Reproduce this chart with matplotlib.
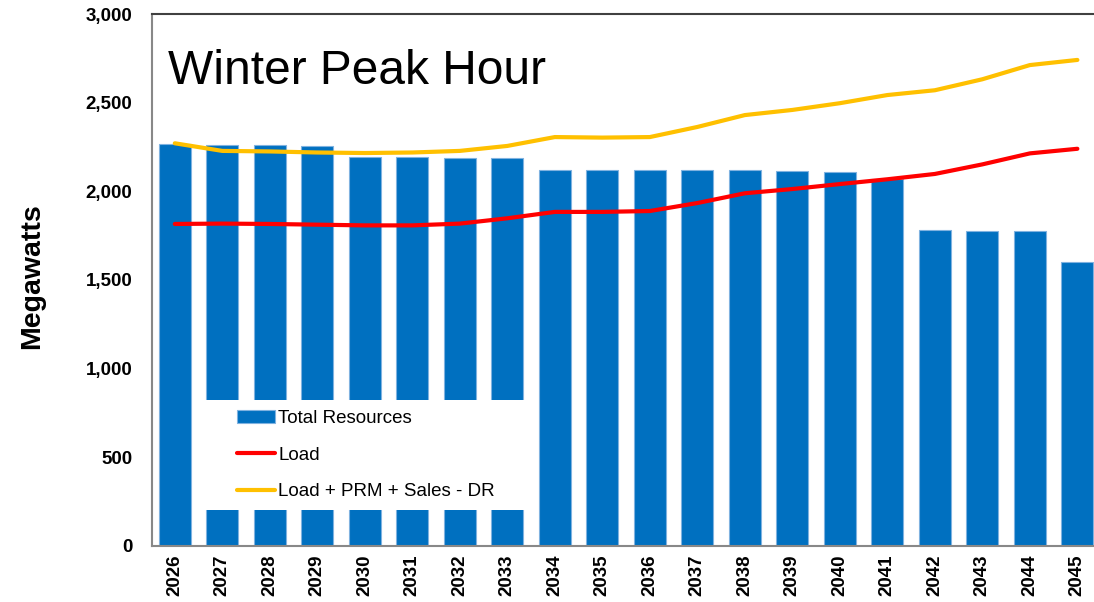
import matplotlib
matplotlib.use("Agg")
import matplotlib.pyplot as plt
from matplotlib.patches import Rectangle
import numpy as np

plt.rcParams['font.family'] = ['Liberation Sans', 'DejaVu Sans']

years = [str(y) for y in range(2026, 2046)]
total_resources = [2267, 2262, 2262, 2255, 2193, 2193, 2190, 2190, 2120, 2120, 2120, 2118,
                   2118, 2115, 2111, 2068, 1784, 1776, 1775, 1600]
load = [1816, 1818, 1816, 1812, 1808, 1808, 1818, 1848, 1884, 1884, 1889, 1934,
        1989, 2013, 2041, 2068, 2098, 2152, 2214, 2240]
load_prm = [2271, 2228, 2225, 2219, 2216, 2219, 2228, 2256, 2306, 2303, 2306, 2363,
            2430, 2459, 2497, 2543, 2570, 2632, 2712, 2741]
yticks = [0, 500, 1000, 1500, 2000, 2500, 3000]

W, H = 1094, 602
fig = plt.figure(figsize=(W/100, H/100), dpi=100)
ax_l, ax_r, ax_t, ax_b = 152, 1094, 14, 546
ax = fig.add_axes([ax_l/W, 1-ax_b/H, (ax_r-ax_l)/W, (ax_b-ax_t)/H])

def axfrac(px, py):
    return (px-ax_l)/(ax_r-ax_l), (ax_b-py)/(ax_b-ax_t)

x = np.arange(len(years))
bars = ax.bar(x, total_resources, width=0.67, color='#0070C0', edgecolor='#7FB2E0',
              linewidth=0.8, label='Total Resources', zorder=2)
l1, = ax.plot(x, load, color='#FF0000', lw=3, label='Load', zorder=3,
              solid_capstyle='round')
l2, = ax.plot(x, load_prm, color='#FFC000', lw=3, label='Load + PRM + Sales - DR',
              zorder=3, solid_capstyle='round')

ax.set_xlim(-0.48, 19.35)
ax.set_ylim(0, 3000)
ax.set_yticks(yticks)
ax.set_yticklabels([f"{v:,}" for v in yticks], fontsize=13.5, fontweight='bold')
ax.set_xticks(x)
ax.set_xticklabels(years, rotation=90, fontsize=13.5, fontweight='bold')
ax.tick_params(axis='y', length=0, pad=14)
ax.tick_params(axis='x', length=0, pad=6)
ax.set_ylabel('Megawatts', fontsize=20.5, fontweight='bold')
yl_x, yl_y = axfrac(45, 276)
ax.yaxis.set_label_coords(yl_x, yl_y)

for s in ['left', 'bottom']:
    ax.spines[s].set_color('#888888')
    ax.spines[s].set_linewidth(1.5)
ax.spines['top'].set_color('#404040')
ax.spines['top'].set_linewidth(1.5)
ax.spines['right'].set_visible(False)

tx, ty = axfrac(168, 66)
ax.text(tx, ty, 'Winter Peak Hour', transform=ax.transAxes, fontsize=34.5,
        ha='left', va='center_baseline')

# white legend background box
bx0, by0 = axfrac(197, 510)
bx1, by1 = axfrac(530, 400)
ax.add_patch(Rectangle((bx0, by0), bx1-bx0, by1-by0, transform=ax.transAxes,
                       facecolor='white', edgecolor='none', zorder=4))

lx, ly = axfrac(237, 455)
leg = ax.legend(handles=[bars, l1, l2], loc='center left', bbox_to_anchor=(lx, ly),
                fontsize=13.5, frameon=False, handlelength=2.05, handletextpad=0.15,
                labelspacing=1.05, borderpad=0, borderaxespad=0)
leg.set_zorder(5)

fig.savefig('out.png', dpi=100)
